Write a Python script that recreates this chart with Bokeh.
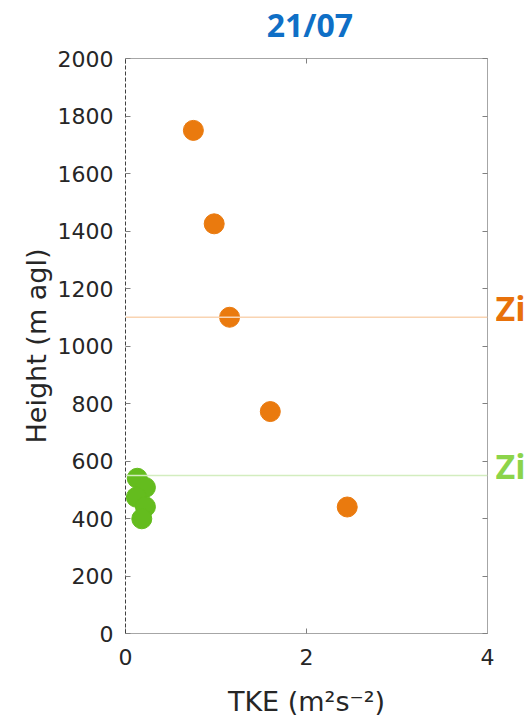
from bokeh.plotting import figure
from bokeh.models import Span, LinearAxis, FixedTicker, Range1d, ColumnDataSource
from bokeh.layouts import row, column
from bokeh.core.properties import value
from bokeh.embed import file_html
from bokeh.resources import INLINE

# data
orange_tke = [0.75, 0.98, 1.15, 1.60, 2.45]
orange_height = [1750, 1425, 1100, 772, 440]
green_tke = [0.13, 0.22, 0.12, 0.22, 0.18]
green_height = [540, 508, 474, 441, 399]
zi_heights = [1100, 550]
zi_labels = ["Zi", "Zi"]
zi_colors = ["#E8710A", "#8CD44A"]
x_ticks = [0, 2, 4]
y_ticks = list(range(0, 2001, 200))
title_text = "21/07"

ORANGE = "#EA7A0E"
GREEN = "#64BC1E"
TICK_COLOR = "#262626"
FRAME = "#A6A6A6"
TICK_MARK = "#808080"
TITLE_H = 48


def bare(fig):
    fig.axis.visible = False
    fig.grid.visible = False
    fig.outline_line_color = None
    fig.background_fill_color = "white"
    fig.border_fill_color = "white"


# title strip
p0 = figure(width=527, height=TITLE_H, output_backend="svg", toolbar_location=None,
            x_range=Range1d(0, 1), y_range=Range1d(0, 1),
            min_border_left=0, min_border_right=0, min_border_top=0, min_border_bottom=0)
bare(p0)
p0.text(x=[0.587], y=[0.5], text=[title_text], text_color="#0F6FC6",
        text_font=value("Open Sans"), text_font_style="bold", text_font_size="32px",
        text_align="center", text_baseline="middle")

# main plot
p = figure(width=495, height=719 - TITLE_H, output_backend="svg", toolbar_location=None,
           x_range=Range1d(0, 4), y_range=Range1d(0, 2000),
           min_border_left=125, min_border_right=8, min_border_top=58 - TITLE_H,
           min_border_bottom=84)
p.xgrid.visible = False
p.ygrid.visible = False
p.outline_line_color = None
p.background_fill_color = "white"
p.border_fill_color = "white"

xa = p.xaxis[0]
xa.ticker = FixedTicker(ticks=x_ticks)
xa.axis_label = "TKE (m²s⁻²)"
ya = p.yaxis[0]
ya.ticker = FixedTicker(ticks=y_ticks)
ya.axis_label = "Height (m agl)"

for ax in (xa, ya):
    ax.axis_line_color = FRAME
    ax.major_tick_in = 5
    ax.major_tick_out = 0
    ax.major_tick_line_color = TICK_MARK
    ax.minor_tick_line_color = None
    ax.major_label_text_font = "DejaVu Sans"
    ax.major_label_text_font_size = "22px"
    ax.major_label_text_color = TICK_COLOR
    ax.axis_label_text_font = "DejaVu Sans"
    ax.axis_label_text_font_size = "27px"
    ax.axis_label_text_font_style = "normal"
    ax.axis_label_text_color = TICK_COLOR
ya.axis_line_color = "#404040"
ya.axis_line_dash = "4 2"
xa.major_label_standoff = 15
xa.axis_label_standoff = 18
ya.major_label_standoff = 12
ya.axis_label_standoff = 3

# box lines and ticks on top and right
top_ax = LinearAxis(ticker=FixedTicker(ticks=x_ticks))
top_ax.major_label_overrides = {t: "" for t in x_ticks}
right_ax = LinearAxis(ticker=FixedTicker(ticks=y_ticks))
right_ax.major_label_overrides = {t: "" for t in y_ticks}
for ax in (top_ax, right_ax):
    ax.axis_line_color = FRAME
    ax.major_tick_in = 5
    ax.major_tick_out = 0
    ax.major_tick_line_color = TICK_MARK
    ax.minor_tick_line_color = None
    ax.major_label_standoff = 0
p.add_layout(top_ax, "above")
p.add_layout(right_ax, "right")

# Zi lines
p.add_layout(Span(location=zi_heights[0], dimension="width", line_color="#F9D4B2", line_width=1.5))
p.add_layout(Span(location=zi_heights[1], dimension="width", line_color="#D3EDBF", line_width=1.5))

p.scatter(orange_tke, orange_height, size=20, fill_color=ORANGE, line_color=ORANGE)
p.scatter(green_tke, green_height, size=20, fill_color=GREEN, line_color=GREEN)

# side panel carrying the Zi labels, sharing the height scale
p2 = figure(width=32, height=719 - TITLE_H, output_backend="svg", toolbar_location=None,
            x_range=Range1d(0, 1), y_range=p.y_range,
            min_border_left=0, min_border_right=0, min_border_top=58 - TITLE_H,
            min_border_bottom=84)
bare(p2)
src = ColumnDataSource(dict(x=[0, 0], y=zi_heights, text=zi_labels, color=zi_colors))
p2.text(x="x", y="y", text="text", source=src, text_color="color",
        text_font=value("Open Sans"), text_font_style="bold", text_font_size="34px",
        text_align="left", text_baseline="alphabetic", y_offset=-9)

layout = column(p0, row(p, p2))
open("out.html", "w").write(file_html(layout, INLINE))
